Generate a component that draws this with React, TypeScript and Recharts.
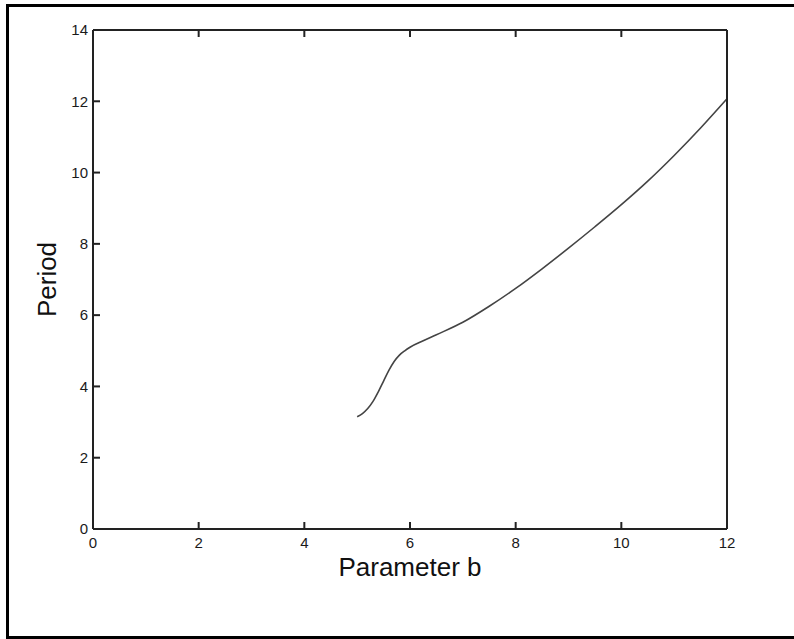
import React from "react";
import { LineChart, Line, XAxis, YAxis } from "recharts";

const paramB = [5.0, 5.1, 5.2, 5.3, 5.4, 5.5, 5.6, 5.7, 5.8, 5.9, 6.0, 6.25, 6.5, 7.0, 7.5, 8.0, 8.5, 9.0, 9.5, 10.0, 10.5, 11.0, 11.5, 12.0];
const period = [3.15, 3.24, 3.38, 3.58, 3.85, 4.15, 4.45, 4.7, 4.88, 5.0, 5.1, 5.28, 5.45, 5.8, 6.25, 6.75, 7.3, 7.88, 8.48, 9.1, 9.76, 10.48, 11.25, 12.07];
const xTicks = [0, 2, 4, 6, 8, 10, 12];
const yTicks = [0, 2, 4, 6, 8, 10, 12, 14];

const data = paramB.map((b, i) => ({ b, period: period[i] }));

const W = 794;
const H = 639;
const MARGIN = { top: 29, right: 66, bottom: 80, left: 53 };
const Y_AXIS_W = 40;
const X_AXIS_H = 30;
const PLOT_LEFT = MARGIN.left + Y_AXIS_W;
const PLOT_RIGHT = W - MARGIN.right - 1;
const PLOT_TOP = MARGIN.top + 1;
const PLOT_BOTTOM = H - MARGIN.bottom - X_AXIS_H;

const FONT = "'Liberation Sans', Arial, sans-serif";
const AXIS = { stroke: "#222", strokeWidth: 2 };
const INK = "#222";
const TICK = 7;

// inward tick marks, placed off the plot edges; along-axis position comes from the scale
function LeftTick({ y, payload }: any) {
  return (
    <g>
      <line x1={PLOT_LEFT} x2={PLOT_LEFT + TICK} y1={y} y2={y} stroke={INK} strokeWidth={2} />
      <text x={PLOT_LEFT - 5} y={y} dy="0.35em" textAnchor="end" fontSize={15} fontFamily={FONT} fill="#1a1a1a">
        {payload.value}
      </text>
    </g>
  );
}

function BottomTick({ x, payload }: any) {
  return (
    <g>
      <line x1={x} x2={x} y1={PLOT_BOTTOM} y2={PLOT_BOTTOM - TICK} stroke={INK} strokeWidth={2} />
      <text x={x} y={PLOT_BOTTOM + 8} dy="0.71em" textAnchor="middle" fontSize={15} fontFamily={FONT} fill="#1a1a1a">
        {payload.value}
      </text>
    </g>
  );
}

function TopTick({ x }: any) {
  return <line x1={x} x2={x} y1={PLOT_TOP} y2={PLOT_TOP + TICK} stroke={INK} strokeWidth={2} />;
}

function RightTick({ y }: any) {
  return <line x1={PLOT_RIGHT - TICK} x2={PLOT_RIGHT} y1={y} y2={y} stroke={INK} strokeWidth={2} />;
}

export default function App() {
  return (
    <div
      style={{
        position: "absolute",
        left: 0,
        top: 0,
        width: W,
        height: H,
        overflow: "hidden",
        background: "#fff",
      }}
    >
      <div
        style={{
          position: "absolute",
          left: 6,
          top: 4,
          width: 788,
          height: 635,
          boxSizing: "border-box",
          borderTop: "3px solid #000",
          borderLeft: "3px solid #000",
          borderBottom: "3px solid #000",
        }}
      />
      <div style={{ position: "absolute", left: 0, top: 0 }}>
        <LineChart width={W} height={H} data={data} margin={MARGIN}>
          <XAxis
            xAxisId="b"
            dataKey="b"
            type="number"
            domain={[0, 12]}
            ticks={xTicks}
            height={X_AXIS_H}
            axisLine={AXIS}
            tickLine={false}
            tick={<BottomTick />}
            label={{
              content: ({ viewBox }: any) => (
                <text
                  x={viewBox.x + viewBox.width / 2}
                  y={viewBox.y + 38}
                  dominantBaseline="central"
                  textAnchor="middle"
                  fontSize={26}
                  fontFamily={FONT}
                  fill="#111"
                >
                  Parameter b
                </text>
              ),
            }}
          />
          <XAxis
            xAxisId="t"
            orientation="top"
            dataKey="b"
            type="number"
            domain={[0, 12]}
            ticks={xTicks}
            height={1}
            axisLine={AXIS}
            tickLine={false}
            tick={<TopTick />}
          />
          <YAxis
            yAxisId="l"
            type="number"
            domain={[0, 14]}
            ticks={yTicks}
            width={Y_AXIS_W}
            axisLine={AXIS}
            tickLine={false}
            tick={<LeftTick />}
            label={{
              content: ({ viewBox }: any) => {
                const cx = viewBox.x - 6;
                const cy = viewBox.y + viewBox.height / 2;
                return (
                  <text
                    x={cx}
                    y={cy}
                    transform={`rotate(-90 ${cx} ${cy})`}
                    dominantBaseline="central"
                    textAnchor="middle"
                    fontSize={26}
                    fontFamily={FONT}
                    fill="#111"
                  >
                    Period
                  </text>
                );
              },
            }}
          />
          <YAxis
            yAxisId="r"
            orientation="right"
            type="number"
            domain={[0, 14]}
            ticks={yTicks}
            width={1}
            axisLine={AXIS}
            tickLine={false}
            tick={<RightTick />}
          />
          <Line
            xAxisId="b"
            yAxisId="l"
            type="monotone"
            dataKey="period"
            stroke="#444"
            strokeWidth={1.6}
            dot={false}
            isAnimationActive={false}
          />
        </LineChart>
      </div>
    </div>
  );
}
